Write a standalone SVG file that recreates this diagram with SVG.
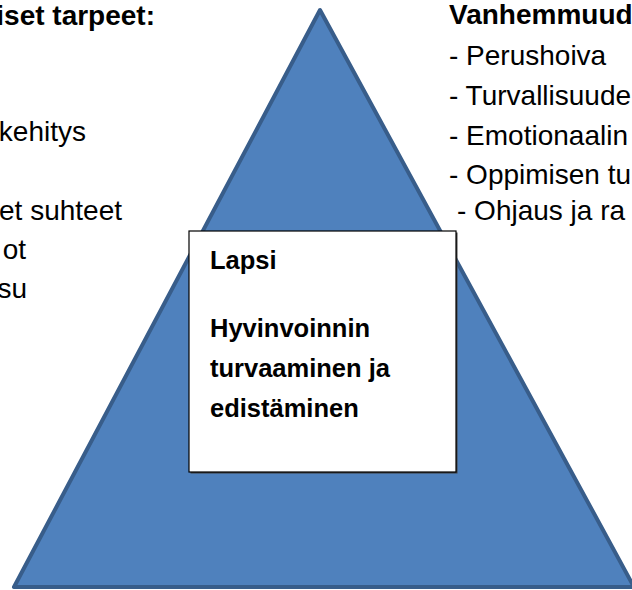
<svg xmlns="http://www.w3.org/2000/svg" width="632" height="590" viewBox="0 0 632 590">
<style>
.t{font-family:"Liberation Sans",Arial,sans-serif;font-size:28px;fill:#000}
.bx{font-family:"Liberation Sans",Arial,sans-serif;font-size:25.5px;font-weight:bold;fill:#000}
.b{font-weight:bold}
</style>
<rect width="632" height="590" fill="#fff"/>
<g id="triangle">
<polygon points="320,10 14,587 634,587" fill="#4F81BD" stroke="#385D8A" stroke-width="4" stroke-linejoin="round"/>
</g>
<g id="left-text">
<text class="t b" x="155" y="25" text-anchor="end">iset tarpeet:</text>
<text class="t" x="86" y="141" text-anchor="end">kehitys</text>
<text class="t" x="122" y="220" text-anchor="end">et suhteet</text>
<text class="t" x="26" y="259" text-anchor="end">ot</text>
<text class="t" x="27" y="298" text-anchor="end">su</text>
</g>
<g id="right-text">
<text class="t b" x="449" y="24">Vanhemmuud</text>
<text class="t" x="449" y="65">- Perushoiva</text>
<text class="t" x="449" y="105">- Turvallisuude</text>
<text class="t" x="449" y="145">- Emotionaalin</text>
<text class="t" x="449" y="184">- Oppimisen tu</text>
<text class="t" x="457" y="220">- Ohjaus ja ra</text>
</g>
<g id="lapsi">
<rect x="190.5" y="232.5" width="267" height="241" fill="#404040"/>
<rect x="189" y="231" width="267" height="241" fill="#fff" stroke="#000" stroke-width="1.2"/>
<text class="bx" x="210" y="269">Lapsi</text>
<text class="bx" x="210" y="337">Hyvinvoinnin</text>
<text class="bx" x="210" y="377">turvaaminen ja</text>
<text class="bx" x="210" y="417">edistäminen</text>
</g>
</svg>
